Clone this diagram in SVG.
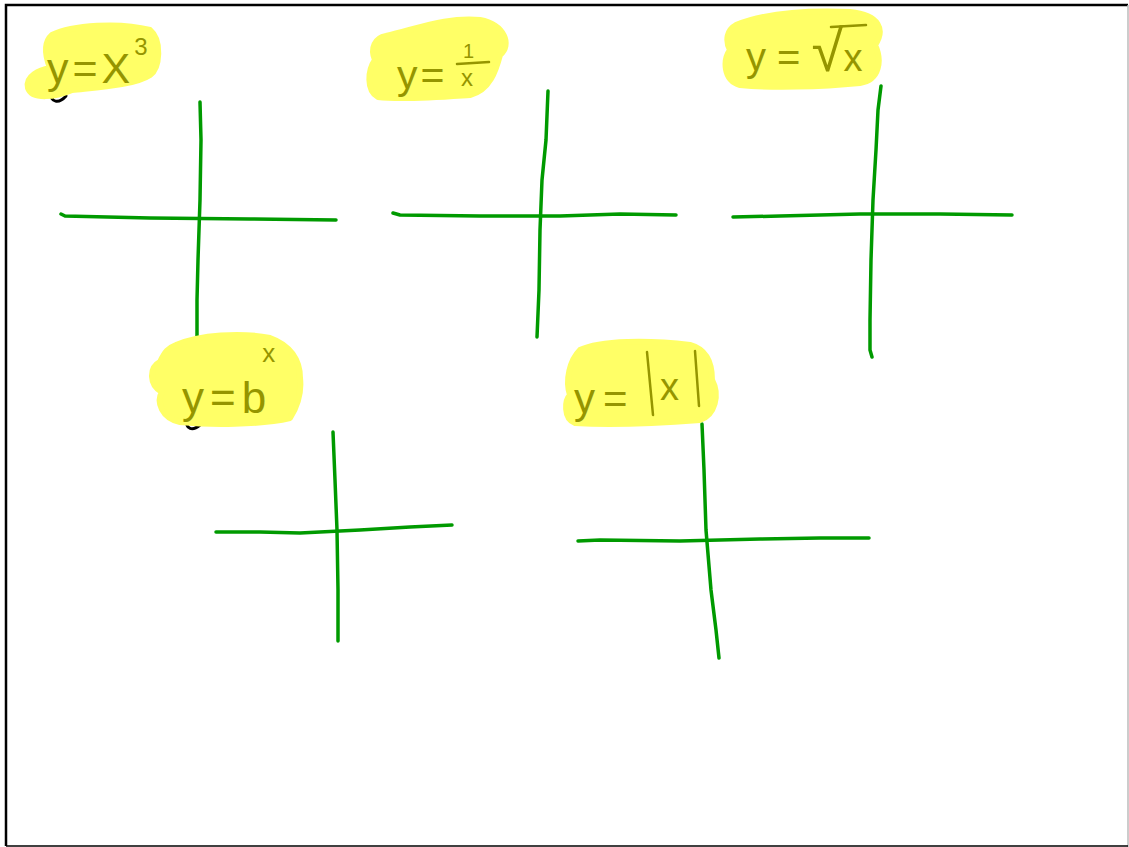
<svg xmlns="http://www.w3.org/2000/svg" width="1129" height="847" viewBox="0 0 1129 847">
<style>
.ax{fill:none;stroke:#009a00;stroke-width:3.5;stroke-linecap:round;stroke-linejoin:round}
.hl{fill:#ffff66;stroke:#ffff66;stroke-width:6;stroke-linejoin:round}
.t{fill:#959500;font-family:"Liberation Sans","DejaVu Sans",sans-serif}
.ink{fill:none;stroke:#959500;stroke-width:2.5;stroke-linecap:round}
.blk{fill:none;stroke:#000;stroke-width:3;stroke-linecap:round}
</style>
<rect x="0" y="0" width="1129" height="847" fill="#fff"/>
<path d="M6,846 L6,5 L1128,5" fill="none" stroke="#000" stroke-width="2.5"/>
<line x1="1128" y1="5" x2="1128" y2="847" stroke="#bbb" stroke-width="1.5"/>
<line x1="6" y1="846" x2="1128" y2="846" stroke="#000" stroke-width="1.5"/>

<g id="graph-cube">
<path class="ax" d="M61,214 L65,216 L150,218 L250,219 L336,220"/>
<path class="ax" d="M200,102 L201,140 L200,200 L198,260 L197,300 L197,336"/>
<path class="blk" d="M51,92 C50,103 59,104 66,96"/>
<path class="hl" d="M52,35 C72,25 120,22 150,30 C162,40 160,68 150,75 C135,85 100,87 72,90 C56,97 32,100 28,88 C25,76 40,70 50,68 C45,55 44,42 52,35 Z"/>
<text class="t" x="47" y="83" font-size="43" letter-spacing="4">y=X<tspan font-size="24" dy="-28" letter-spacing="0">3</tspan></text>
</g>

<g id="graph-reciprocal">
<path class="ax" d="M393,213 L400,215 L480,216 L560,216 L620,214 L676,215"/>
<path class="ax" d="M548,91 L546,140 L542,180 L540,230 L539,290 L537,337"/>
<path class="hl" d="M386,36 C420,28 447,17 480,20 C505,25 512,45 500,55 C496,70 490,90 470,95 C440,97 402,100 378,97 C366,90 368,70 375,60 C370,48 375,38 386,36 Z"/>
<text class="t" x="397" y="89" font-size="41" letter-spacing="3">y=</text>
<text class="t" x="463" y="58" font-size="20">1</text>
<path class="ink" d="M457,64 L489,62"/>
<text class="t" x="461" y="86" font-size="24">x</text>
</g>

<g id="graph-sqrt">
<path class="ax" d="M733,217 L780,216 L860,214 L940,214 L1012,215"/>
<path class="ax" d="M881,86 L878,110 L876,150 L873,200 L871,260 L870,320 L870,350 L872,357"/>
<path class="hl" d="M736,25 C760,15 800,10 850,12 C880,15 885,30 875,45 C882,60 880,80 860,83 C820,87 770,88 740,85 C723,80 723,60 730,50 C725,40 727,30 736,25 Z"/>
<text class="t" x="746" y="71" font-size="40">y = <tspan font-size="58">√</tspan><tspan font-size="38">x</tspan></text>
<path class="ink" d="M831,27 L866,25"/>
</g>

<g id="graph-exp">
<path class="ax" d="M216,532 L260,532 L300,533 L360,530 L410,527 L452,525"/>
<path class="ax" d="M333,432 L335,480 L337,530 L338,590 L338,641"/>
<path class="blk" d="M187,419 C185,430 193,431 200,425"/>
<path class="hl" d="M176,345 C200,335 240,332 270,338 C290,345 300,360 300,378 C302,395 295,410 290,418 C260,425 210,425 180,422 C162,418 156,402 162,392 C149,385 149,368 160,362 C165,352 168,348 176,345 Z"/>
<text class="t" x="182" y="413" font-size="44" letter-spacing="6">y=b<tspan font-size="26" dy="-51" dx="-10" letter-spacing="0">x</tspan></text>
</g>

<g id="graph-abs">
<path class="ax" d="M578,541 L600,540 L680,541 L760,539 L820,538 L869,538"/>
<path class="ax" d="M702,424 L704,470 L706,530 L711,590 L716,630 L719,658"/>
<path class="hl" d="M580,350 C600,340 650,340 690,345 C708,350 712,365 712,380 C720,395 715,415 700,420 C660,423 610,425 575,423 C563,418 565,400 570,395 C565,380 570,360 580,350 Z"/>
<text class="t" x="574" y="413" font-size="42" letter-spacing="8">y=</text>
<path class="ink" d="M647,352 L653,415"/>
<text class="t" x="660" y="400" font-size="38">x</text>
<path class="ink" d="M695,351 L699,406"/>
</g>

<g id="connectors"></g>
</svg>
